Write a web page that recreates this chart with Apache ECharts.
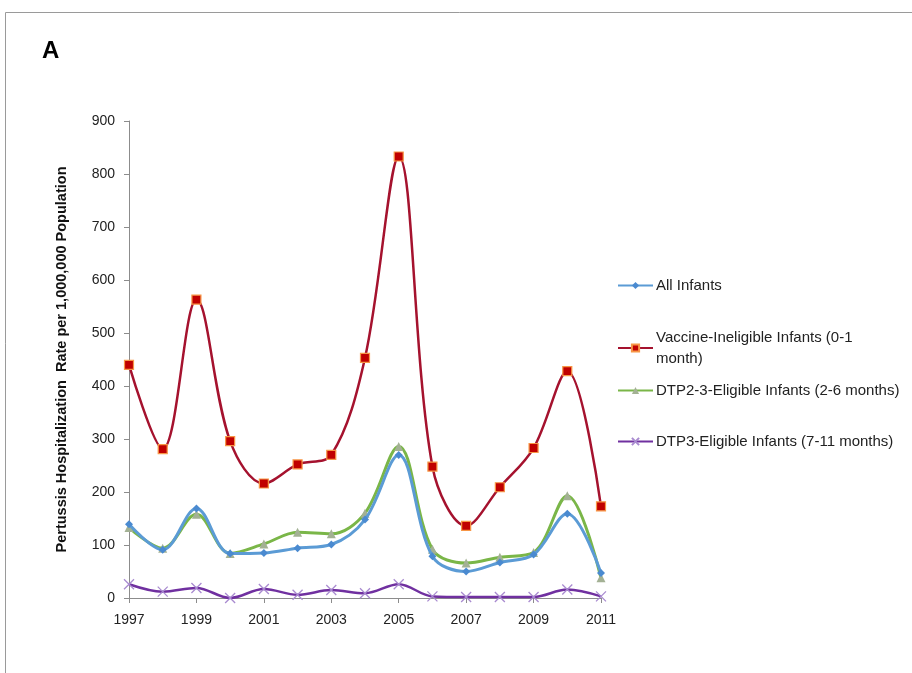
<!DOCTYPE html>
<html>
<head>
<meta charset="utf-8">
<script src="https://cdn.jsdelivr.net/npm/echarts@6/dist/echarts.min.js"></script>
<style>
  html, body { margin: 0; padding: 0; background: #fff; }
  #chart { width: 912px; height: 673px; }
</style>
</head>
<body>
<div id="chart"></div>
<script>
// Pertussis hospitalization rates per 1,000,000 infants, by age group
const years = ['1997','1998','1999','2000','2001','2002','2003','2004','2005','2006','2007','2008','2009','2010','2011'];
const allInfants =        [139, 91, 169, 84, 85, 94, 101, 148, 270, 79, 50, 67, 82, 159, 47];
const vaccineIneligible = [440, 281, 563, 296, 216, 252, 270, 453, 833, 248, 136, 209, 283, 428, 173];
const dtp23Eligible =     [133, 94, 158, 84, 102, 124, 121, 160, 286, 92, 66, 77, 86, 193, 38];
const dtp3Eligible =      [26, 12, 19, 0, 17, 6, 15, 9, 26, 3, 2, 2, 2, 16, 3];

const seriesNames = [
  'All Infants',
  'Vaccine-Ineligible Infants (0-1\nmonth)',
  'DTP2-3-Eligible Infants (2-6 months)',
  'DTP3-Eligible Infants (7-11 months)'
];

const FONT = '"Liberation Sans", Arial, sans-serif';
const chart = echarts.init(document.getElementById('chart'), null, { renderer: 'canvas' });

const crossSymbol = 'path://M0,0L10,10M10,0L0,10';

function legendAt(name, top) {
  return {
    data: [name],
    left: 612,
    top: top,
    orient: 'vertical',
    itemWidth: 35,
    itemHeight: 9,
    itemGap: 4,
    textStyle: { fontFamily: FONT, fontSize: 15, color: '#222', lineHeight: 21, padding: [0, 0, 0, -2] },
    selectedMode: false
  };
}

chart.setOption({
  animation: false,
  backgroundColor: '#fff',
  grid: { left: 129, right: 311, top: 121, bottom: 75, containLabel: false },
  graphic: [
    {
      type: 'polyline',
      shape: { points: [[5.5, 700], [5.5, 12.5], [920, 12.5]] },
      style: { stroke: '#9a9a9a', lineWidth: 1, fill: null }
    },
    {
      type: 'text',
      left: 42,
      top: 39,
      style: { text: 'A', font: 'bold 24px "Liberation Sans Narrow", "Liberation Sans", Arial, sans-serif', fill: '#000' }
    }
  ],
  legend: [
    legendAt(seriesNames[0], 270),
    legendAt(seriesNames[1], 322),
    legendAt(seriesNames[2], 375),
    legendAt(seriesNames[3], 426)
  ],
  xAxis: {
    type: 'category',
    data: years,
    boundaryGap: false,
    axisLine: { lineStyle: { color: '#8c8c8c', width: 1 } },
    axisTick: { show: true, interval: 1, length: 5, inside: false, lineStyle: { color: '#8c8c8c' } },
    axisLabel: { interval: 1, margin: 15, fontFamily: FONT, fontSize: 14, color: '#222' },
    splitLine: { show: false }
  },
  yAxis: {
    type: 'value',
    min: 0,
    max: 900,
    interval: 100,
    name: 'Pertussis Hospitalization  Rate per 1,000,000 Population',
    nameLocation: 'middle',
    nameGap: 60,
    nameRotate: 90,
    nameTextStyle: { fontFamily: FONT, fontSize: 14.5, fontWeight: 'bold', color: '#111' },
    axisLine: { show: true, lineStyle: { color: '#8c8c8c', width: 1 } },
    axisTick: { show: true, length: 5, lineStyle: { color: '#8c8c8c' } },
    axisLabel: { margin: 14, fontFamily: FONT, fontSize: 14, color: '#222' },
    splitLine: { show: false }
  },
  series: [
    {
      name: seriesNames[0],
      type: 'line',
      data: allInfants,
      smooth: 0.35,
      symbol: 'diamond',
      symbolSize: 8,
      lineStyle: { color: '#5b9bd5', width: 3 },
      itemStyle: { color: '#4a8ad0', borderColor: '#4a8ad0', borderWidth: 0 },
      z: 3
    },
    {
      name: seriesNames[1],
      type: 'line',
      data: vaccineIneligible,
      smooth: 0.35,
      symbol: 'rect',
      symbolSize: 9,
      lineStyle: { color: '#a5122e', width: 2.5 },
      itemStyle: { color: '#c00000', borderColor: '#f79646', borderWidth: 1.2 },
      z: 4
    },
    {
      name: seriesNames[2],
      type: 'line',
      data: dtp23Eligible,
      smooth: 0.35,
      symbol: 'triangle',
      symbolSize: 9,
      lineStyle: { color: '#7ab648', width: 3 },
      itemStyle: { color: '#a3b194', borderColor: '#a3b194', borderWidth: 0 },
      z: 2
    },
    {
      name: seriesNames[3],
      type: 'line',
      data: dtp3Eligible,
      smooth: 0.35,
      symbol: crossSymbol,
      symbolSize: 10,
      lineStyle: { color: '#7030a0', width: 2.5 },
      itemStyle: { color: 'rgba(0,0,0,0)', borderColor: '#a98bd0', borderWidth: 1.3 },
      z: 5
    }
  ]
});
</script>
</body>
</html>
